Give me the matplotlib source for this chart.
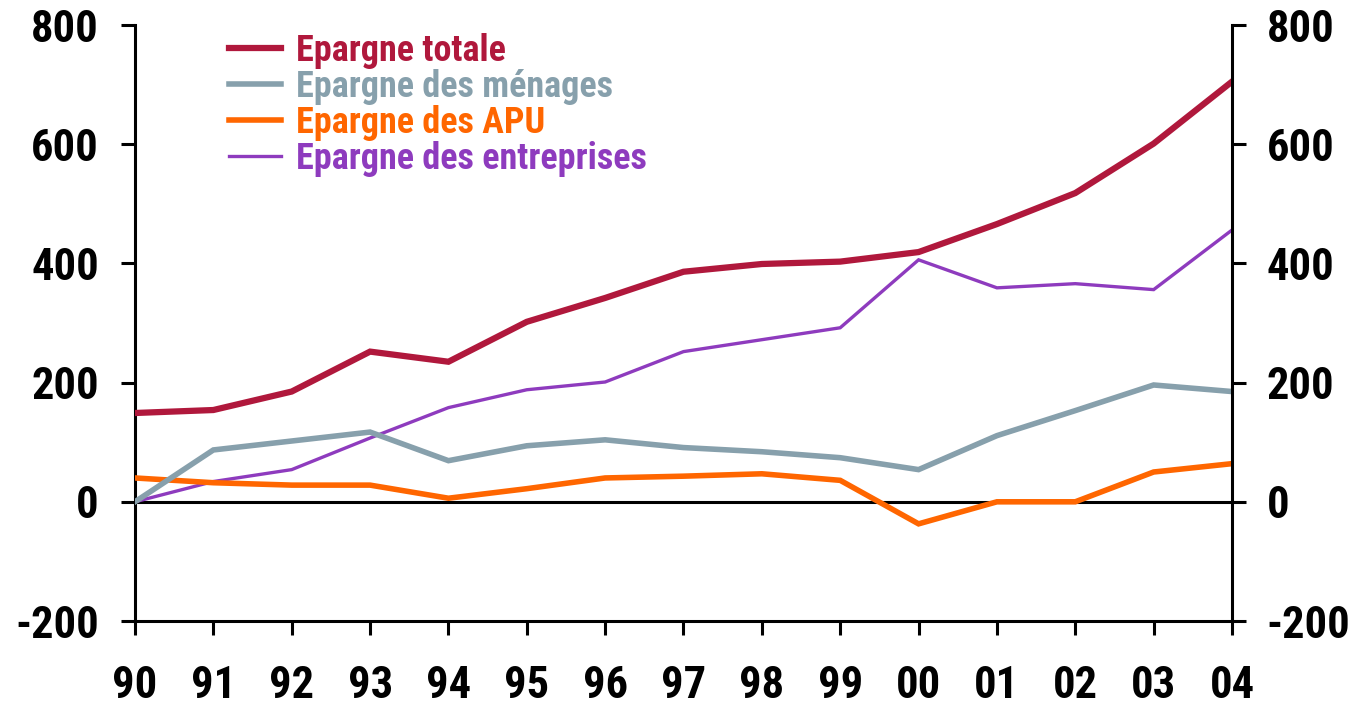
import matplotlib
matplotlib.use("Agg")
import matplotlib.pyplot as plt

years = ["90", "91", "92", "93", "94", "95", "96", "97", "98", "99", "00", "01", "02", "03", "04"]
totale = [149, 154, 185, 252, 235, 302, 342, 386, 399, 403, 419, 466, 518, 601, 705]
menages = [0, 87, 102, 117, 69, 94, 104, 91, 84, 74, 54, 111, 153, 196, 185]
apu = [40, 32, 28, 28, 6, 22, 40, 43, 47, 36, -37, 0, 0, 50, 64]
entreprises = [0, 34, 54, 107, 158, 188, 201, 252, 272, 292, 406, 359, 366, 356, 456]
yticks = [-200, 0, 200, 400, 600, 800]

labels = ["Epargne totale", "Epargne des ménages", "Epargne des APU", "Epargne des entreprises"]
colors = ["#B0183C", "#87A0AC", "#FF6600", "#8E3BBE"]
widths = [4.5, 4.0, 4.0, 2.4]

plt.rcParams['font.family'] = ['Roboto Condensed', 'Liberation Sans', 'DejaVu Sans']
plt.rcParams['font.weight'] = 'bold'
plt.rcParams['axes.unicode_minus'] = False

fig = plt.figure(figsize=(13.58, 7.06), dpi=100)
ax = fig.add_axes([135/1358, 1-621/706, (1232-135)/1358, (621-25)/706])
x = list(range(len(years)))

ax.axhline(0, color='black', lw=2.2, zorder=1)
series = [totale, menages, apu, entreprises]
lines = {}
for i in [3, 2, 1, 0]:
    ln, = ax.plot(x, series[i], color=colors[i], lw=widths[i], label=labels[i], zorder=3, solid_joinstyle='miter')
    lines[i] = ln

ax.set_xlim(0, len(years)-1)
ax.set_ylim(-200, 800)
ax.set_yticks(yticks)
ax.set_xticks(x)
ax.set_xticklabels(years)
ax.spines['top'].set_visible(False)
ax.spines['right'].set_visible(False)
for s in ['left', 'bottom']:
    ax.spines[s].set_linewidth(2.2)
ax.tick_params(axis='y', direction='out', length=10, width=2.2, labelsize=32, pad=16)
ax.tick_params(axis='x', direction='out', length=10, width=2.2, labelsize=32, pad=22)

ax2 = ax.twinx()
ax2.set_ylim(-200, 800)
ax2.set_yticks(yticks)
ax2.spines['top'].set_visible(False)
ax2.spines['left'].set_visible(False)
ax2.spines['bottom'].set_visible(False)
ax2.spines['right'].set_linewidth(2.2)
ax2.tick_params(axis='y', direction='out', length=10, width=2.2, labelsize=32, pad=15)

handles = [lines[i] for i in range(4)]
leg = ax.legend(handles, labels, loc='upper left', bbox_to_anchor=(0.069, 1.017), frameon=False,
                prop={'size': 26, 'weight': 'bold'}, handlelength=1.45, handletextpad=0.42,
                labelspacing=0.0, borderpad=0, labelcolor='linecolor')

fig.savefig("out.png", dpi=100)
